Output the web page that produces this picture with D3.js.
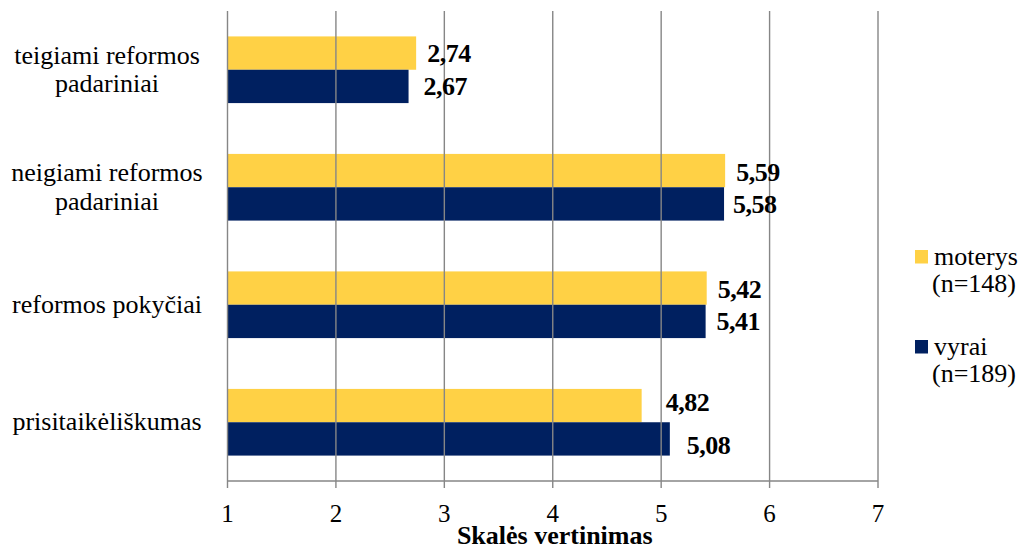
<!DOCTYPE html>
<html><head><meta charset="utf-8"><script src="https://cdn.jsdelivr.net/npm/d3@7"></script></head>
<body style="margin:0">
<svg id="chart" width="1020" height="549"></svg>
<script>
// ---- Data ----
const categories = [
  ["teigiami reformos", "padariniai"],
  ["neigiami reformos", "padariniai"],
  ["reformos pokyčiai"],
  ["prisitaikėliškumas"]
];
const seriesNames = ["moterys", "vyrai"];
const seriesNotes = ["(n=148)", "(n=189)"];
const moterys = [2.74, 5.59, 5.42, 4.82];
const vyrai = [2.67, 5.58, 5.41, 5.08];
const xTicks = [1, 2, 3, 4, 5, 6, 7];
const axisTitle = "Skalės vertinimas";

// ---- Layout / style (not data) ----
const serifFont = "Liberation Serif";
const colors = ["#FFD145", "#002060"];
const gridColor = "#868686";
// small manual nudges of value labels [series][category] -> [dx, dy]
const labelNudge = [
  [[11, 0], [11, 2], [11, 1], [24, -3]],
  [[15, 0], [9, 0], [11, 0], [17, 6]]
];

const svg = d3.select("#chart");
const plotL = 227.5, plotR = 878, plotT = 11, plotB = 481;

function styleText(sel, size, bold) {
  sel.style("font-family", `"${serifFont}"`).attr("font-size", size);
  if (bold) sel.attr("font-weight", "bold");
  return sel;
}

const x = d3.scaleLinear().domain([1, 7]).range([plotL, plotR]);
const pad = 0.4326;
const y = d3.scaleBand().domain(d3.range(categories.length))
  .range([plotT, plotB]).paddingInner(pad).paddingOuter(pad / 2);
const ySub = d3.scaleBand().domain([0, 1]).range([0, y.bandwidth()]).padding(0);

const series = [moterys, vyrai];

// bars
series.forEach((vals, si) => {
  svg.append("g").selectAll("rect").data(vals).join("rect")
    .attr("x", x(1))
    .attr("y", (d, i) => y(i) + ySub(si))
    .attr("width", d => x(d) - x(1))
    .attr("height", ySub.bandwidth())
    .attr("fill", colors[si]);
});

// gridlines + tick marks (drawn over bars, as in reference)
svg.append("g").selectAll("line").data(xTicks).join("line")
  .attr("x1", d => x(d)).attr("x2", d => x(d))
  .attr("y1", plotT).attr("y2", plotB + 7)
  .attr("stroke", gridColor).attr("stroke-width", 1.4);
svg.append("line")
  .attr("x1", plotL).attr("x2", plotR).attr("y1", plotB).attr("y2", plotB)
  .attr("stroke", gridColor).attr("stroke-width", 1.4);

// value labels
series.forEach((vals, si) => {
  const t = svg.append("g").selectAll("text").data(vals).join("text")
    .attr("x", (d, i) => x(d) + labelNudge[si][i][0])
    .attr("y", (d, i) => y(i) + ySub(si) + ySub.bandwidth() / 2 + labelNudge[si][i][1])
    .attr("dy", "0.34em")
    .attr("letter-spacing", -0.5)
    .text(d => d3.format(".2f")(d).replace(".", ","));
  styleText(t, 26, true);
});

// x tick labels
const tl = svg.append("g").selectAll("text").data(xTicks).join("text")
  .attr("x", d => x(d)).attr("y", 522)
  .attr("text-anchor", "middle")
  .text(d => d);
styleText(tl, 25, false);

// axis title
styleText(svg.append("text")
  .attr("x", (plotL + plotR) / 2 + 2).attr("y", 544)
  .attr("text-anchor", "middle")
  .text(axisTitle), 26, true);

// category labels
categories.forEach((lines, i) => {
  const c = y(i) + y.bandwidth() / 2;
  const lh = 28.5;
  const base = c + 8 - (lines.length - 1) * lh / 2;
  const t = styleText(svg.append("text").attr("text-anchor", "middle"), 26, false);
  lines.forEach((ln, j) => {
    styleText(t.append("tspan").attr("x", 107).attr("y", base + j * lh).text(ln), 26, false);
  });
});

// legend
const legY = [250, 340];
seriesNames.forEach((name, si) => {
  svg.append("rect").attr("x", 915).attr("y", legY[si])
    .attr("width", 13).attr("height", 13.5).attr("fill", colors[si]);
  styleText(svg.append("text").attr("x", 934).attr("y", legY[si] + 15).text(name), 26, false);
  styleText(svg.append("text").attr("x", 932).attr("y", legY[si] + 42).text(seriesNotes[si]), 26, false);
});
</script>
</body>
</html>
